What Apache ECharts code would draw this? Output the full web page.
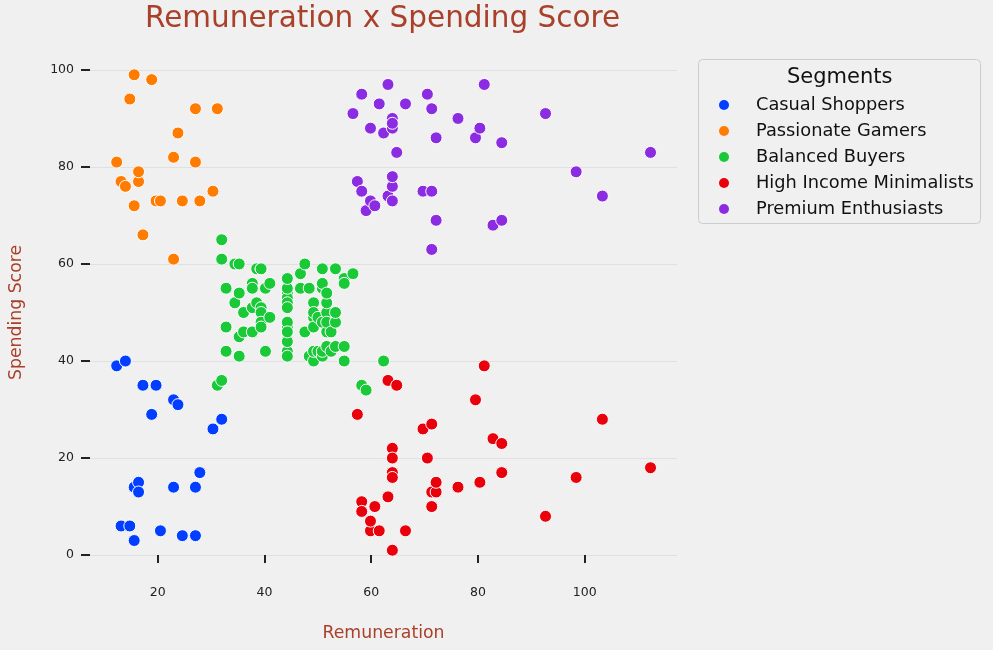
<!DOCTYPE html>
<html>
<head>
<meta charset="utf-8">
<script src="https://cdn.jsdelivr.net/npm/echarts@6/dist/echarts.min.js"></script>
<style>
html,body{margin:0;padding:0;background:#ffffff;}
#chart{width:993px;height:650px;background:#f0f0f0;}
</style>
</head>
<body>
<div id="chart"></div>
<script>
// Remuneration (k£) vs Spending Score, per segment
const casualShoppers = [[12.3,39],[13.12,6],[13.94,40],[14.76,6],[15.58,3],[15.58,14],[16.4,15],[16.4,13],[17.22,35],[18.86,29],[19.68,35],[20.5,5],[22.96,14],[22.96,32],[23.78,31],[24.6,4],[27.06,4],[27.06,14],[27.88,17],[30.34,26],[31.98,28]];
const passionateGamers = [[12.3,81],[13.12,77],[13.94,76],[14.76,94],[15.58,72],[15.58,99],[16.4,77],[16.4,79],[17.22,66],[18.86,98],[19.68,73],[20.5,73],[22.96,82],[22.96,61],[23.78,87],[24.6,73],[27.06,92],[27.06,81],[27.88,73],[30.34,75],[31.16,92]];
const balancedBuyers = [[31.16,35],[31.98,36],[31.98,61],[31.98,65],[32.8,55],[32.8,47],[32.8,42],[32.8,42],[34.44,52],[34.44,60],[35.26,54],[35.26,60],[35.26,45],[35.26,41],[36.08,50],[36.08,46],[37.72,51],[37.72,46],[37.72,56],[37.72,55],[38.54,52],[38.54,59],[39.36,51],[39.36,59],[39.36,50],[39.36,48],[39.36,59],[39.36,47],[40.18,55],[40.18,42],[41.0,49],[41.0,56],[44.28,47],[44.28,54],[44.28,53],[44.28,48],[44.28,52],[44.28,42],[44.28,51],[44.28,55],[44.28,41],[44.28,44],[44.28,57],[44.28,46],[46.74,58],[46.74,55],[47.56,60],[47.56,46],[48.38,55],[48.38,41],[49.2,49],[49.2,40],[49.2,42],[49.2,52],[49.2,47],[49.2,50],[50.02,42],[50.02,49],[50.84,41],[50.84,48],[50.84,59],[50.84,55],[50.84,56],[50.84,42],[51.66,50],[51.66,46],[51.66,43],[51.66,48],[51.66,52],[51.66,54],[52.48,42],[52.48,46],[53.3,48],[53.3,50],[53.3,43],[53.3,59],[54.94,43],[54.94,57],[54.94,56],[54.94,40],[56.58,58],[58.22,35],[59.04,34],[62.32,40]];
const highIncomeMinimalists = [[57.4,29],[58.22,11],[58.22,9],[59.86,5],[59.86,7],[60.68,10],[61.5,5],[63.14,12],[63.14,36],[63.96,22],[63.96,17],[63.96,20],[63.96,16],[63.96,1],[63.96,1],[64.78,35],[66.42,5],[69.7,26],[70.52,20],[71.34,27],[71.34,13],[71.34,10],[72.16,13],[72.16,15],[76.26,14],[79.54,32],[80.36,15],[81.18,39],[82.82,24],[84.46,17],[84.46,23],[92.66,8],[98.4,16],[103.32,28],[112.34,18]];
const premiumEnthusiasts = [[56.58,91],[57.4,77],[58.22,95],[58.22,75],[58.22,75],[59.04,71],[59.86,88],[59.86,73],[60.68,72],[61.5,93],[62.32,87],[63.14,97],[63.14,74],[63.96,90],[63.96,88],[63.96,76],[63.96,89],[63.96,78],[63.96,73],[64.78,83],[66.42,93],[69.7,75],[70.52,95],[71.34,63],[71.34,75],[71.34,92],[72.16,86],[72.16,69],[76.26,90],[79.54,86],[80.36,88],[81.18,97],[82.82,68],[84.46,85],[84.46,69],[92.66,91],[98.4,79],[103.32,74],[112.34,83]];

const segmentNames = ['Casual Shoppers','Passionate Gamers','Balanced Buyers','High Income Minimalists','Premium Enthusiasts'];
const segmentData = [casualShoppers, passionateGamers, balancedBuyers, highIncomeMinimalists, premiumEnthusiasts];
const segmentColors = ['#023eff','#ff7c00','#1ac938','#e8000b','#8b2be2'];
const xTicks = [20,40,60,80,100];
const yTicks = [0,20,40,60,80,100];

const FONT = 'DejaVu Sans';
const accent = '#a9402a';

const chart = echarts.init(document.getElementById('chart'), null, {renderer:'canvas'});
chart.setOption({
  backgroundColor:'#f0f0f0',
  animation:false,
  title:{
    text:'Remuneration x Spending Score',
    left:145, top:4, padding:0,
    textStyle:{fontFamily:FONT,fontSize:29.5,fontWeight:'normal',color:accent}
  },
  graphic:[
    {type:'rect', left:698, top:59, z:-1,
     shape:{width:282,height:164,r:4},
     style:{fill:'#f0f0f0',stroke:'#cccccc',lineWidth:1}},
    {type:'text', left:787, top:67,
     style:{text:'Segments',fontFamily:FONT,fontSize:21,fill:'#111'}}
  ],
  legend:{
    data:segmentNames,
    orient:'vertical',
    left:719, top:95, padding:0,
    itemWidth:10, itemHeight:10, itemGap:6,
    icon:'circle',
    itemStyle:{borderWidth:0},
    textStyle:{fontFamily:FONT,fontSize:17.8,lineHeight:20,color:'#111',padding:[0,0,0,22]}
  },
  grid:{left:88,right:316,top:51,bottom:76,containLabel:false},
  xAxis:{
    type:'value', min:7.3, max:117.3,
    name:'Remuneration', nameLocation:'middle', nameGap:51,
    nameTextStyle:{fontFamily:FONT,fontSize:17.3,color:accent},
    axisLine:{show:false},
    axisTick:{show:true,customValues:xTicks,length:8,inside:false,lineStyle:{color:'#222',width:2}},
    axisLabel:{customValues:xTicks,margin:12,fontFamily:FONT,fontSize:12.5,color:'#222'},
    splitLine:{show:false}
  },
  yAxis:{
    type:'value', min:-3.9, max:103.9,
    name:'Spending Score', nameLocation:'middle', nameGap:65,
    nameTextStyle:{fontFamily:FONT,fontSize:17.3,color:accent},
    axisLine:{show:false},
    axisTick:{show:true,customValues:yTicks,length:9,inside:false,lineStyle:{color:'#222',width:2}},
    axisLabel:{customValues:yTicks,margin:16,fontFamily:FONT,fontSize:12.5,color:'#222'},
    splitLine:{show:true,lineStyle:{color:'#e0e0e0',width:1}}
  },
  series: segmentNames.map((name,i)=>({
    name:name,
    type:'scatter',
    data:segmentData[i],
    symbol:'circle',
    symbolSize:12,
    itemStyle:{color:segmentColors[i],borderColor:'#ffffff',borderWidth:1,opacity:1},
    emphasis:{disabled:true}
  }))
});
</script>
</body>
</html>
